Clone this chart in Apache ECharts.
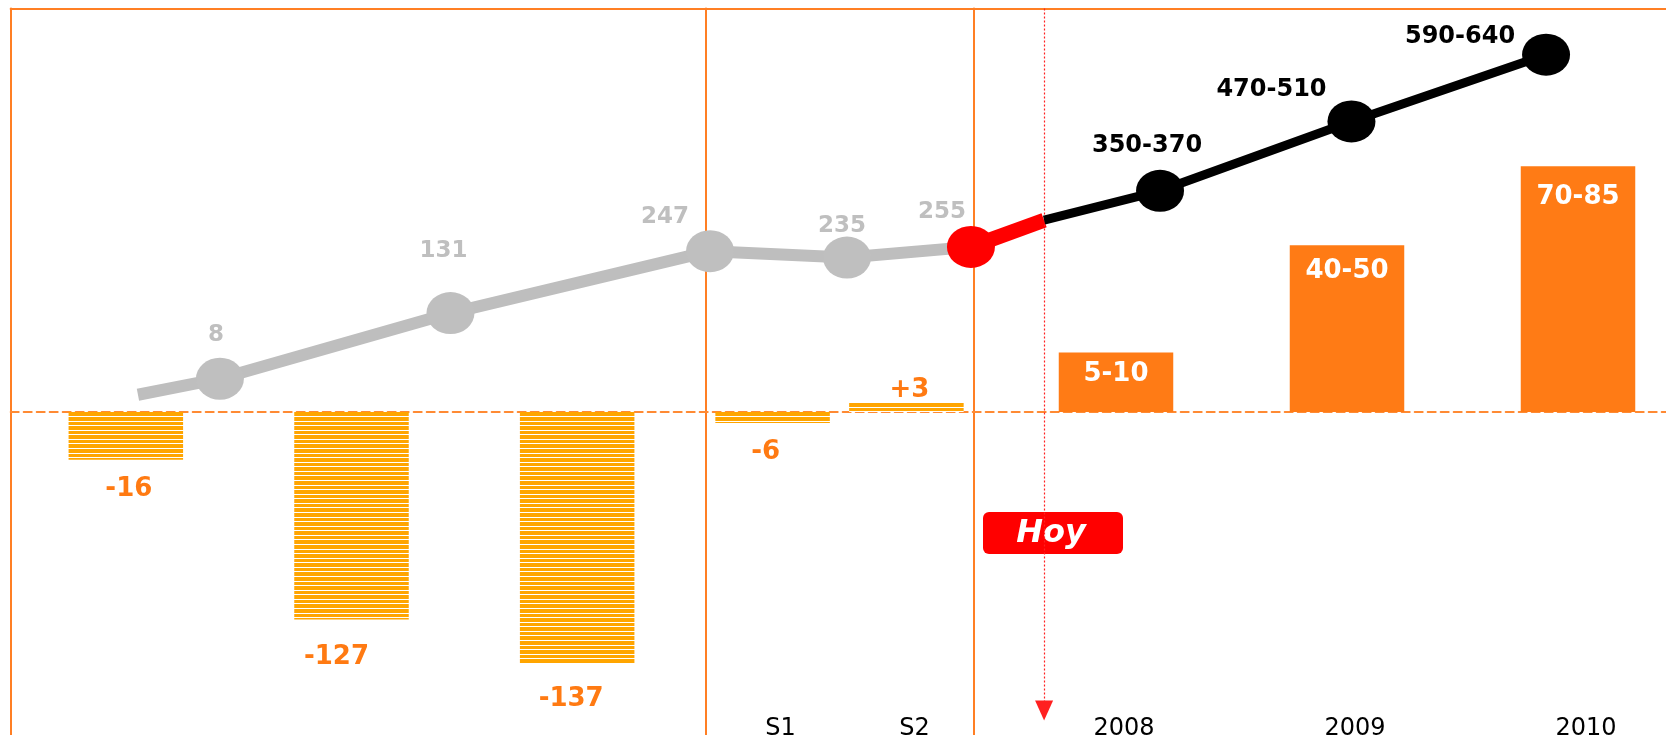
<!DOCTYPE html>
<html>
<head>
<meta charset="utf-8">
<script src="https://cdn.jsdelivr.net/npm/echarts@6/dist/echarts.min.js"></script>
<style>
html,body{margin:0;padding:0;background:#ffffff;}
#chart{width:1666px;height:735px;}
</style>
</head>
<body>
<div id="chart"></div>
<script>
// ---------------- DATA ----------------
// The original chart is schematic (not to scale): bar heights below are the
// heights as drawn, the printed figures are kept in the label arrays.
const pastCategories   = ['', '', ''];
const halfCategories   = ['S1', 'S2'];
const futureCategories = ['2008', '2009', '2010'];

const pastBarHeights   = [-26, -113, -137];
const halfBarHeights   = [-6, 5];
const futureBarHeights = [32.5, 91, 134];

const pastBarLabels    = ['-16', '-127', '-137'];
const halfBarLabels    = ['-6', '+3'];
const futureBarLabels  = ['5-10', '40-50', '70-85'];

// line: values (midpoint for ranges) and position along the timeline (% of width)
const lineValues = [-22, 8, 131, 247, 235, 255, 305, 360, 490, 615];
const lineX      = [8.28, 13.2, 27.04, 42.62, 50.84, 58.28, 62.67, 69.63, 81.12, 92.8];
const lineLabels = ['', '8', '131', '247', '235', '255', '', '350-370', '470-510', '590-640'];
const lastActualIndex = 5;   // "255"
const hoyIndex = 6;          // today marker
const hoyText = 'Hoy';

// ---------------- STYLE ----------------
const FONT = '"DejaVu Sans", Verdana, sans-serif';
const ORANGE_FRAME = '#FF7F24';
const ORANGE_LABEL = '#FF7A12';
const ORANGE_SOLID = '#FF7B15';
const ORANGE_HATCH = '#FFA500';
const GREY = '#BFBFBF';

// horizontal-stripe pattern for the historical bars
const patCanvas = document.createElement('canvas');
patCanvas.width = 4; patCanvas.height = 32;
const pctx = patCanvas.getContext('2d');
pctx.fillStyle = ORANGE_HATCH; pctx.fillRect(0, 0, 4, 32);
pctx.fillStyle = '#ffffff';
for (let k = 0; k < 7; k++) pctx.fillRect(0, Math.round(k * 32 / 7), 4, 1);
const hatch = { image: patCanvas, repeat: 'repeat' };

const BAR_Y = { min: -176, max: 220 };
const LINE_Y = { min: -613.5, max: 702.5 };

function hiddenValueY(gridIndex, range) {
  return { type: 'value', gridIndex: gridIndex, min: range.min, max: range.max, show: false };
}
function frameValueY(gridIndex, range, position) {
  return { type: 'value', gridIndex: gridIndex, min: range.min, max: range.max, position: position,
    axisLine: { show: true, onZero: false, lineStyle: { color: ORANGE_FRAME, width: 2 } },
    axisTick: { show: false }, axisLabel: { show: false }, splitLine: { show: false } };
}

// bar label placement (style only)
const pastLabelStyle = [
  { position: 'bottom', distance: 16, offset: [3, 0] },
  { position: 'bottom', distance: 25, offset: [-15, 0] },
  { position: 'bottom', distance: 23, offset: [-6, 0] }
];
const halfLabelStyle = [
  { position: 'bottom', distance: 16, offset: [-7, 0] },
  { position: 'top', distance: 0, offset: [3, 0] }
];
const futureLabelStyle = [
  { position: 'insideTop', distance: 9, offset: [0, 0] },
  { position: 'insideTop', distance: 13, offset: [0, 0] },
  { position: 'insideTop', distance: 18, offset: [0, 0] }
];

function barData(values, labels, styles, color, textColor, size) {
  return values.map((v, i) => ({
    value: v,
    itemStyle: { color: color },
    label: Object.assign({
      show: true, formatter: labels[i], color: textColor,
      fontSize: size, fontWeight: 'bold', fontFamily: FONT
    }, styles[i])
  }));
}

// line label offsets (style only)
const lineLabelOffsets = [null, [-4, -44], [-7, -62], [-45, -34], [-5, -32], [-29, -35], null, [-13, -45], [-80, -32], [-86, -18]];

function linePoint(i, colorSym, labelColor) {
  const hasLabel = lineLabels[i] !== '';
  return {
    value: [lineX[i], lineValues[i]],
    symbol: hasLabel ? 'circle' : 'none',
    symbolSize: [48, 42],
    itemStyle: { color: colorSym },
    label: hasLabel ? {
      show: true, position: 'inside', offset: lineLabelOffsets[i],
      formatter: lineLabels[i], color: labelColor,
      fontSize: 23, fontWeight: 'bold', fontFamily: FONT
    } : { show: false }
  };
}

const greyData = [];
for (let i = 0; i <= lastActualIndex; i++) {
  greyData.push(linePoint(i, i === lastActualIndex ? '#FF0000' : GREY, GREY));
}
const redData = [
  { value: [lineX[lastActualIndex], lineValues[lastActualIndex]], symbol: 'none' },
  { value: [lineX[hoyIndex], lineValues[hoyIndex]], symbol: 'none' }
];
const blackData = [];
for (let i = hoyIndex; i < lineValues.length; i++) {
  const p = linePoint(i, '#000000', '#000000');
  if (p.label.show) p.label.fontSize = 24;
  blackData.push(p);
}

const catAxisLabel = {
  margin: -18, fontSize: 24, color: '#000000', fontFamily: FONT, padding: [0, 0, 0, 16]
};

const noBounds = { outerBoundsMode: 'none', containLabel: false };

const option = {
  animation: false,
  backgroundColor: '#ffffff',
  grid: [
    // 0: line (full width)
    Object.assign({ left: 0, right: 0, top: 8, bottom: 24.5 }, noBounds),
    // 1: historical bars
    Object.assign({ left: 13, width: 677, top: 8.5, bottom: 0 }, noBounds),
    // 2: semesters (between the two vertical dividers)
    Object.assign({ left: 705.7, width: 267.6, top: 8.5, bottom: 0 }, noBounds),
    // 3: forecast bars
    Object.assign({ left: 1000.5, width: 693, top: 8.5, bottom: 0 }, noBounds),
    // 4: outer frame + zero line
    Object.assign({ left: 10.7, right: 0, top: 8.5, bottom: 0 }, noBounds)
  ],
  xAxis: [
    { type: 'value', gridIndex: 0, min: 0, max: 100, show: false },
    { type: 'category', gridIndex: 1, data: pastCategories, show: false },
    { type: 'category', gridIndex: 2, data: halfCategories,
      axisLine: { show: false }, axisTick: { show: false }, axisLabel: catAxisLabel },
    { type: 'category', gridIndex: 3, data: futureCategories,
      axisLine: { show: false }, axisTick: { show: false }, axisLabel: catAxisLabel },
    { type: 'value', gridIndex: 4, min: 0, max: 1,
      axisLine: { show: true, onZero: true, lineStyle: { color: '#FF8A33', width: 2, type: [8, 5] } },
      axisTick: { show: false }, axisLabel: { show: false }, splitLine: { show: false } },
    { type: 'value', gridIndex: 4, min: 0, max: 1, position: 'top',
      axisLine: { show: true, onZero: false, lineStyle: { color: ORANGE_FRAME, width: 2 } },
      axisTick: { show: false }, axisLabel: { show: false }, splitLine: { show: false } }
  ],
  yAxis: [
    hiddenValueY(0, LINE_Y),
    hiddenValueY(1, BAR_Y),
    frameValueY(2, BAR_Y, 'left'),
    hiddenValueY(3, BAR_Y),
    frameValueY(4, BAR_Y, 'left'),
    frameValueY(2, BAR_Y, 'right')
  ],
  series: [
    { type: 'bar', xAxisIndex: 1, yAxisIndex: 1, barWidth: 114.5, z: 2,
      data: barData(pastBarHeights, pastBarLabels, pastLabelStyle, hatch, ORANGE_LABEL, 26) },
    { type: 'bar', xAxisIndex: 2, yAxisIndex: 2, barWidth: 114.5, z: 2,
      data: barData(halfBarHeights, halfBarLabels, halfLabelStyle, hatch, ORANGE_LABEL, 26) },
    { type: 'bar', xAxisIndex: 3, yAxisIndex: 3, barWidth: 114.5, z: 2,
      data: barData(futureBarHeights, futureBarLabels, futureLabelStyle, ORANGE_SOLID, '#ffffff', 26) },
    { type: 'line', xAxisIndex: 0, yAxisIndex: 0, z: 5, data: greyData,
      lineStyle: { color: '#BEBEBE', width: 12 }, clip: false },
    { type: 'line', xAxisIndex: 0, yAxisIndex: 0, z: 4, data: redData,
      lineStyle: { color: '#FF0000', width: 15 }, clip: false },
    { type: 'line', xAxisIndex: 0, yAxisIndex: 0, z: 5, data: blackData,
      lineStyle: { color: '#000000', width: 9 }, clip: false,
      markLine: {
        silent: true, animation: false,
        symbol: ['triangle', 'none'], symbolSize: [18, 20],
        label: { show: false },
        lineStyle: { color: '#FF2020', width: 1.2, type: [2, 2] },
        data: [{ xAxis: lineX[hoyIndex] }]
      } }
  ],
  graphic: [
    { type: 'group', left: 983, top: 512, z: 100, children: [
      { type: 'rect', shape: { x: 0, y: 0, width: 140, height: 42, r: 6 }, style: { fill: '#FF0000' } },
      { type: 'text', x: 68, y: 22, style: { text: hoyText, fill: '#ffffff', fontSize: 32,
        fontWeight: 'bold', fontStyle: 'italic', fontFamily: FONT, align: 'center', verticalAlign: 'middle' } }
    ] }
  ]
};

const chart = echarts.init(document.getElementById('chart'), null, { renderer: 'canvas' });
chart.setOption(option);
</script>
</body>
</html>
